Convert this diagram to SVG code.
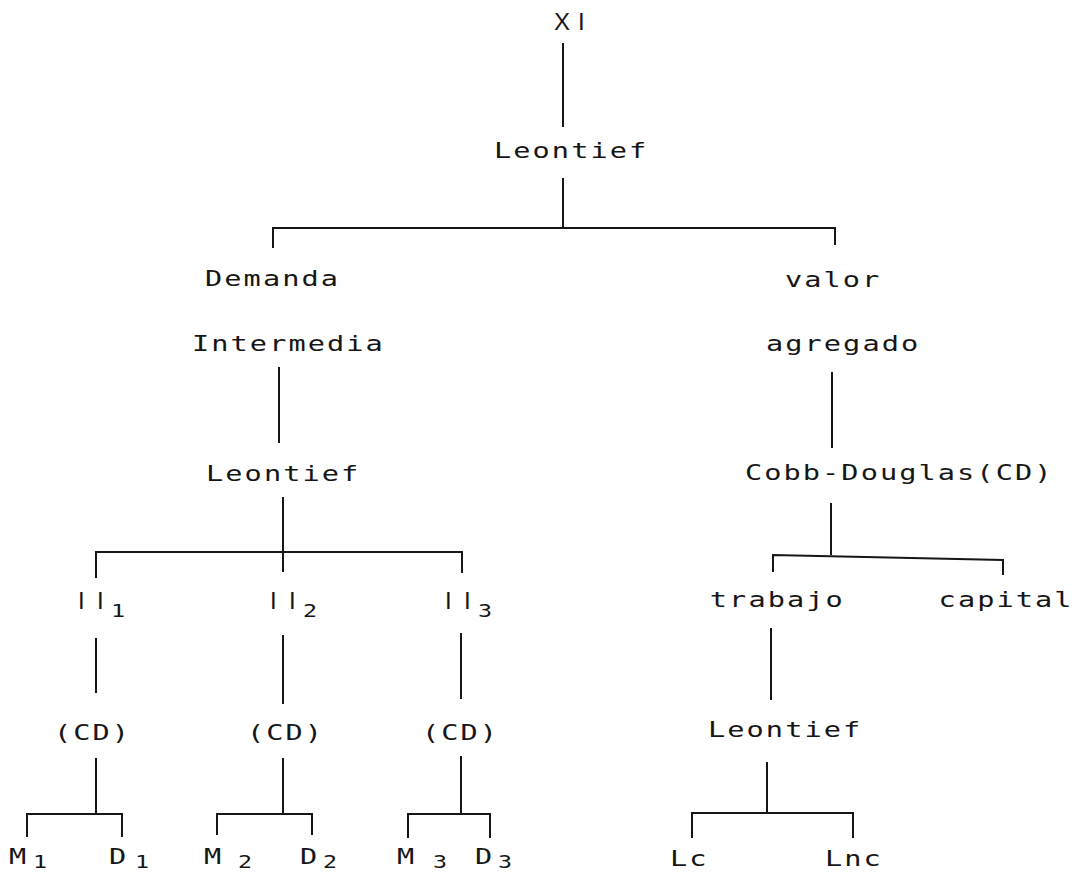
<svg xmlns="http://www.w3.org/2000/svg" width="1074" height="873" viewBox="0 0 1074 873">
<style>
.t{font-family:"DejaVu Sans Mono","Liberation Mono",monospace;font-size:22px;letter-spacing:1.6px;fill:#161616}
.s{font-family:"Liberation Sans",Arial,sans-serif;font-size:24px;fill:#161616}
.sub{font-family:"DejaVu Sans Mono","Liberation Mono",monospace;font-size:18px;fill:#161616}
.c{stroke:#161616;stroke-width:2;fill:none}
</style>
<rect width="1074" height="873" fill="#fff"/>
<g id="connectors">
<path class="c" d="M563,43V127"/>
<path class="c" d="M563,178V228M273,248V228H835V245"/>
<path class="c" d="M279,367V443"/>
<path class="c" d="M283,497V552M96,578V552H462V573M283,552V572"/>
<path class="c" d="M96,638V693M283,635V704M461,633V699"/>
<path class="c" d="M96,758V814M27,837V814H122V837"/>
<path class="c" d="M283,758V814M217,835V814H312V835"/>
<path class="c" d="M461,756V814M408,838V814H490V838"/>
<path class="c" d="M832,372V448"/>
<path class="c" d="M831,503V555M773,572V555L1003,560V575"/>
<path class="c" d="M771,628V700"/>
<path class="c" d="M767,762V813M692,838V813H853V838"/>
</g>
<g id="n-xi"><text class="s" x="554 578" y="30">XI</text></g>
<g id="n-leontief-top" transform="scale(1.3,1)"><text class="t" x="380" y="158">Leontief</text></g>
<g id="n-demanda" transform="scale(1.3,1)"><text class="t" x="157.7" y="286">Demanda</text><text class="t" x="147.7" y="351">Intermedia</text></g>
<g id="n-leontief-left" transform="scale(1.3,1)"><text class="t" x="158.5" y="481">Leontief</text></g>
<g id="n-valor" transform="scale(1.3,1)"><text class="t" x="603.8" y="287">valor</text><text class="t" x="589.2" y="351">agregado</text></g>
<g id="n-cobb" transform="scale(1.3,1)"><text class="t" x="573" y="480">Cobb-Douglas(CD)</text></g>
<g id="n-ii1"><text class="s" x="78 97" y="609">II</text><text class="sub" transform="scale(1.3,1)" x="85.4" y="617">1</text></g>
<g id="n-ii2"><text class="s" x="270 289" y="609">II</text><text class="sub" transform="scale(1.3,1)" x="233" y="617">2</text></g>
<g id="n-ii3"><text class="s" x="445 464" y="609">II</text><text class="sub" transform="scale(1.3,1)" x="367.7" y="617">3</text></g>
<g id="n-cd1" transform="scale(1.3,1)"><text class="t" x="41.5" y="740">(CD)</text></g>
<g id="n-cd2" transform="scale(1.3,1)"><text class="t" x="190" y="740">(CD)</text></g>
<g id="n-cd3" transform="scale(1.3,1)"><text class="t" x="324.6" y="740">(CD)</text></g>
<g id="n-trabajo" transform="scale(1.3,1)"><text class="t" x="546" y="607">trabajo</text></g>
<g id="n-capital" transform="scale(1.3,1)"><text class="t" x="722" y="607">capital</text></g>
<g id="n-leontief-right" transform="scale(1.3,1)"><text class="t" x="544.6" y="737">Leontief</text></g>
<g id="n-m1" transform="scale(1.3,1)"><text class="t" x="6.9" y="864">M</text><text class="sub" x="25.4" y="868">1</text></g>
<g id="n-d1" transform="scale(1.3,1)"><text class="t" x="83.8" y="864">D</text><text class="sub" x="103.8" y="868">1</text></g>
<g id="n-m2" transform="scale(1.3,1)"><text class="t" x="157" y="864">M</text><text class="sub" x="183" y="868">2</text></g>
<g id="n-d2" transform="scale(1.3,1)"><text class="t" x="230.8" y="864">D</text><text class="sub" x="248.5" y="868">2</text></g>
<g id="n-m3" transform="scale(1.3,1)"><text class="t" x="305.4" y="864">M</text><text class="sub" x="333" y="868">3</text></g>
<g id="n-d3" transform="scale(1.3,1)"><text class="t" x="365.4" y="864">D</text><text class="sub" x="383" y="868">3</text></g>
<g id="n-lc" transform="scale(1.3,1)"><text class="t" x="515.4" y="866">Lc</text></g>
<g id="n-lnc" transform="scale(1.3,1)"><text class="t" x="634.6" y="866">Lnc</text></g>
</svg>
